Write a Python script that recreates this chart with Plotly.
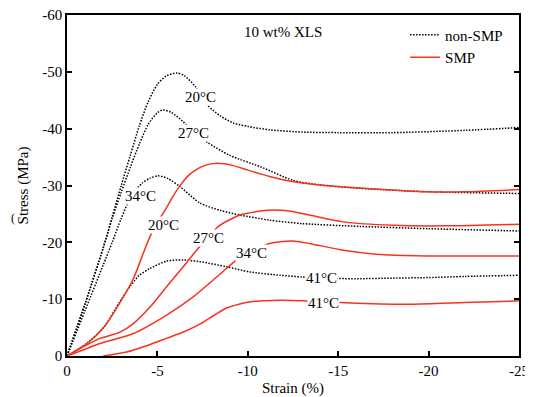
import plotly.graph_objects as go

# ---- data (strain %, stress MPa) ----
non20_x = [0, -1, -2, -2.5, -3, -3.5, -4, -4.5, -5, -5.5, -6.1, -6.5, -7.1, -7.75, -8.5, -9.2, -10, -11.2, -13, -15, -18, -22, -25]
non20_y = [0, -9.2, -19, -24.5, -30, -35.3, -40.5, -44.8, -47.8, -49.3, -49.8, -49.3, -47.4, -44.2, -42.2, -41.0, -40.4, -39.8, -39.4, -39.3, -39.3, -39.7, -40.2]

non27_x = [0, -1, -2, -2.5, -3, -3.5, -4, -4.5, -5, -5.3, -5.8, -6.4, -7.0, -7.76, -9, -10.7, -12.5, -14, -16.2, -20, -25]
non27_y = [0, -9.2, -19, -24.2, -28.8, -33.2, -37.3, -40.8, -42.8, -43.3, -42.8, -41.3, -39.5, -37.6, -35.3, -33.3, -30.9, -30.1, -29.5, -28.9, -28.6]

non34_x = [0, -1, -2, -2.5, -3, -3.5, -4.15, -4.6, -5.05, -5.6, -6.25, -7.36, -8.5, -9.57, -11.2, -13, -16.2, -20, -25]
non34_y = [0, -8.0, -16.0, -20.0, -24.2, -27.8, -30.4, -31.3, -31.7, -31.2, -29.8, -26.9, -25.6, -24.8, -23.9, -23.3, -22.8, -22.4, -22.0]

non41_x = [0, -1.12, -2.05, -2.97, -3.5, -4.0, -4.59, -5.51, -6.43, -7.36, -8.83, -10.1, -11.8, -13, -14, -16, -18, -20, -22, -25]
non41_y = [0, -2.3, -5.1, -9.8, -12.3, -14.2, -15.4, -16.7, -16.9, -16.6, -15.7, -14.8, -14.2, -13.9, -13.7, -13.6, -13.7, -13.8, -14.0, -14.2]

smp20_x = [0, -1.12, -2.05, -2.93, -3.67, -4.22, -4.59, -5.0, -5.45, -5.9, -6.3, -6.7, -7.1, -7.6, -8.3, -9.2, -10, -11.2, -12.3, -14, -16, -18, -19.9, -22, -25]
smp20_y = [0, -2.2, -5.1, -9.4, -13.6, -18.1, -21.0, -23.5, -25.8, -28.3, -30.2, -31.7, -32.7, -33.5, -33.9, -33.5, -32.7, -31.6, -30.8, -30.1, -29.6, -29.2, -28.9, -28.9, -29.3]

smp27_x = [0, -1, -1.83, -2.93, -3.67, -4.59, -5.51, -6.43, -7.17, -7.8, -8.37, -9.57, -10.7, -11.4, -12.3, -13.4, -15.3, -18, -21, -25]
smp27_y = [0, -1.8, -3.1, -4.2, -5.7, -8.6, -12.2, -15.7, -18.6, -20.8, -22.8, -24.8, -25.5, -25.7, -25.5, -24.8, -23.6, -23.0, -22.9, -23.2]

smp34_x = [0, -1, -1.83, -3.67, -5.51, -6.98, -8.28, -9.39, -10.3, -11.2, -11.8, -12.6, -13.4, -15.3, -17.1, -19.9, -22, -25]
smp34_y = [0, -1.2, -2.2, -3.95, -7.2, -10.4, -13.9, -16.9, -18.6, -19.8, -20.1, -20.2, -19.8, -18.6, -17.9, -17.6, -17.6, -17.6]

smp41_x = [-2, -3.3, -4.4, -5.5, -6.5, -7.4, -8.2, -8.8, -9.5, -10.1, -11.8, -13, -16, -19, -22, -25]
smp41_y = [0, -0.7, -1.8, -3.1, -4.3, -5.7, -7.3, -8.4, -9.1, -9.5, -9.8, -9.7, -9.3, -9.1, -9.4, -9.7]

x_ticks = [0, -5, -10, -15, -20, -25]
x_ticktext = ["0", "-5", "-10", "-15", "-20", "-25"]
y_ticks = [0, -10, -20, -30, -40, -50, -60]
y_ticktext = ["0", "-10", "-20", "-30", "-40", "-50", "-60"]

temp_labels = ["20°C", "27°C", "34°C", "41°C"]
non_label_x = [-7.41, -6.97, -4.09, -14.1]
non_label_y = [-45.6, -39.3, -28.2, -13.7]
smp_label_x = [-5.31, -7.80, -10.23, -14.16]
smp_label_y = [-23.1, -20.8, -18.1, -9.3]

FONT = "Liberation Serif"
RED = "#f8321e"
DOT = "1.5px,1.5px"

fig = go.Figure()
non_series = [(non20_x, non20_y), (non27_x, non27_y), (non34_x, non34_y), (non41_x, non41_y)]
smp_series = [(smp20_x, smp20_y), (smp27_x, smp27_y), (smp34_x, smp34_y), (smp41_x, smp41_y)]
for i, (xs, ys) in enumerate(non_series):
    fig.add_trace(go.Scatter(x=xs, y=ys, mode="lines", name="non-SMP",
                             showlegend=(i == 0), legendgroup="non",
                             line=dict(color="black", width=1.5, dash=DOT, shape="spline", smoothing=0.7)))
for i, (xs, ys) in enumerate(smp_series):
    fig.add_trace(go.Scatter(x=xs, y=ys, mode="lines", name="SMP",
                             showlegend=(i == 0), legendgroup="smp",
                             line=dict(color=RED, width=1.5, shape="spline", smoothing=0.7)))

annotations = []
for t, x, y in zip(temp_labels, non_label_x, non_label_y):
    annotations.append(dict(x=x, y=y, xref="x", yref="y", text=t, showarrow=False,
                            font=dict(family=FONT, size=15, color="black"),
                            bgcolor="white", borderpad=0))
for t, x, y in zip(temp_labels, smp_label_x, smp_label_y):
    annotations.append(dict(x=x, y=y, xref="x", yref="y", text=t, showarrow=False,
                            font=dict(family=FONT, size=15, color="black"),
                            bgcolor="white", borderpad=0))
annotations.append(dict(x=0.477, y=0.979, xref="paper", yref="paper", text="10 wt% XLS",
                        showarrow=False, font=dict(family=FONT, size=15, color="black")))
annotations.append(dict(x=-0.128, y=0.404, xref="paper", yref="paper", text="(",
                        xanchor="left", showarrow=False,
                        font=dict(family=FONT, size=12, color="black")))

# page body has an 8px margin, so the figure is offset by 8px; sizes compensate
fig.update_layout(
    width=525, height=389,
    margin=dict(l=59, r=14, t=7, b=41, autoexpand=False),
    paper_bgcolor="white", plot_bgcolor="white",
    font=dict(family=FONT, size=15, color="black"),
    annotations=annotations,
    legend=dict(x=0.748, y=0.99, xanchor="left", yanchor="top",
                bgcolor="rgba(0,0,0,0)", borderwidth=0, itemwidth=30,
                font=dict(family=FONT, size=15), tracegroupgap=0),
    xaxis=dict(range=[0, -25], tickvals=x_ticks, ticktext=x_ticktext, automargin=False,
               ticks="inside", ticklen=5, tickwidth=1.5, tickcolor="black",
               showline=True, linecolor="black", linewidth=1.5, mirror=True,
               showgrid=False, zeroline=False, ticklabeloverflow="allow",
               tickfont=dict(family=FONT, size=15),
               title=dict(text="Strain (%)", font=dict(family=FONT, size=15), standoff=8)),
    yaxis=dict(range=[0, -60], tickvals=y_ticks, ticktext=y_ticktext, automargin=False,
               ticks="inside", ticklen=5, tickwidth=1.5, tickcolor="black",
               showline=True, linecolor="black", linewidth=1.5, mirror="ticks",
               showgrid=False, zeroline=False, ticklabeloverflow="allow",
               tickfont=dict(family=FONT, size=15),
               title=dict(text="Stress (MPa)", font=dict(family=FONT, size=15), standoff=10)),
)

fig.write_html("out.html")
